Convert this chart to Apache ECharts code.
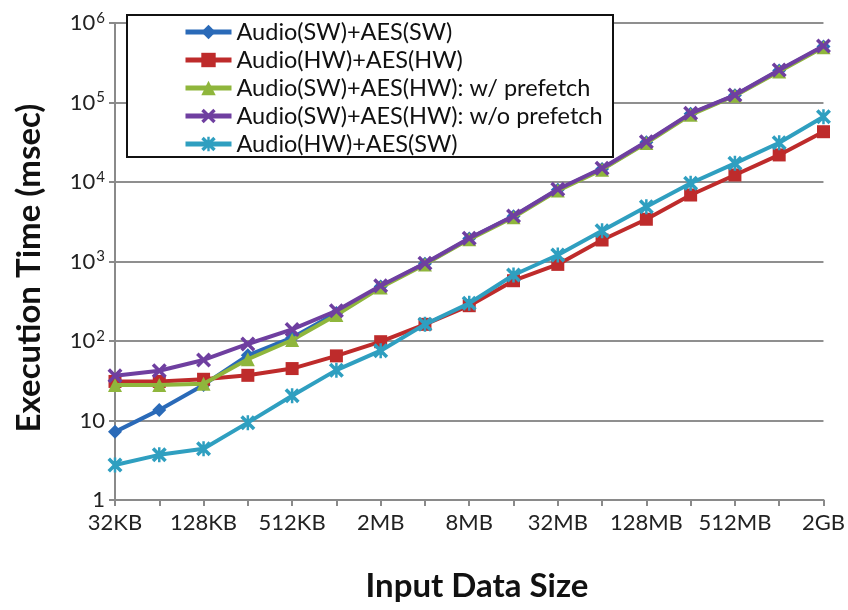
<!DOCTYPE html>
<html><head><meta charset="utf-8">
<script src="https://cdn.jsdelivr.net/npm/echarts@6/dist/echarts.min.js"></script>
<style>html,body{margin:0;padding:0;background:#fff}#c{width:848px;height:610px}</style>
</head><body><div id="c"></div>
<script>
var categories = ['32KB','64KB','128KB','256KB','512KB','1MB','2MB','4MB','8MB','16MB','32MB','64MB','128MB','256MB','512MB','1GB','2GB'];
var seriesNames = ['Audio(SW)+AES(SW)','Audio(HW)+AES(HW)','Audio(SW)+AES(HW): w/ prefetch','Audio(SW)+AES(HW): w/o prefetch','Audio(HW)+AES(SW)'];
var swSw = [7.2, 13.6, 28, 66, 110, 225, 485, 940, 1940, 3700, 8000, 14600, 31600, 72000, 123000, 252000, 505000];
var hwHw = [31, 31, 33, 37, 45, 65, 98, 162, 278, 573, 920, 1864, 3400, 6860, 12250, 21900, 42900];
var swHwPre = [28, 28, 29, 59, 103, 212, 470, 920, 1900, 3600, 7800, 14300, 31000, 70000, 122000, 245000, 495000];
var swHwNoPre = [36.6, 42.3, 57.7, 91.7, 140, 240, 496, 949, 1958, 3735, 8090, 14870, 32100, 73100, 124000, 256000, 514000];
var hwSw = [2.75, 3.7, 4.4, 9.4, 20.5, 43, 75.5, 162, 298, 676, 1207, 2440, 4890, 9630, 17180, 31200, 66300];

var colors = ['#2a6ab8', '#be2b2b', '#8fb63c', '#6f3fa0', '#2f9fc0'];
var xPath = 'path://M0,2 L2,0 L6,4 L10,0 L12,2 L8,6 L12,10 L10,12 L6,8 L2,12 L0,10 L4,6 Z';
var starPath = 'path://M0,2 L2,0 L6,4 L10,0 L12,2 L8,6 L12,10 L10,12 L6,8 L2,12 L0,10 L4,6 Z M5,0 L7,0 L7,12 L5,12 Z';
var symbols = ['diamond', 'rect', 'triangle', xPath, starPath];
var sizes = [14, 13, 14, 15, 15];
var datas = [swSw, hwHw, swHwPre, swHwNoPre, hwSw];
var FONT = 'Lato, "Open Sans", sans-serif';

var chart = echarts.init(document.getElementById('c'), null, {renderer: 'canvas'});
var series = datas.map(function (d, i) {
  return {
    name: seriesNames[i], type: 'line', data: d,
    symbol: symbols[i], symbolSize: sizes[i], showAllSymbol: true,
    lineStyle: {color: colors[i], width: 4},
    itemStyle: {color: colors[i], borderWidth: 0, opacity: 1},
    emphasis: {disabled: true}, animation: false, z: 2 + i * 0.01
  };
});

chart.setOption({
  animation: false,
  grid: {left: 115, right: 20, top: 23, bottom: 110, containLabel: false},
  xAxis: {
    type: 'category', data: categories, boundaryGap: false,
    axisLine: {lineStyle: {color: '#8a8a8a', width: 2}},
    axisTick: {show: true, interval: 0, length: 6, alignWithLabel: true, lineStyle: {color: '#8a8a8a', width: 2}},
    axisLabel: {interval: 1, color: '#222', fontFamily: FONT, fontSize: 22, margin: 12},
    splitLine: {show: false}
  },
  yAxis: {
    type: 'log', logBase: 10, min: 1, max: 1000000,
    axisLine: {show: true, lineStyle: {color: '#8a8a8a', width: 2}},
    axisTick: {show: true, length: 6, lineStyle: {color: '#8a8a8a', width: 2}},
    splitLine: {show: true, lineStyle: {color: '#8f8f8f', width: 2}},
    minorTick: {show: false},
    axisLabel: {
      color: '#222', fontFamily: FONT, fontSize: 22, margin: 10,
      formatter: function (v) {
        var e = Math.round(Math.log10(v));
        if (e === 0) return '1';
        if (e === 1) return '10';
        return '10{s|' + e + '}';
      },
      rich: {s: {fontSize: 15, fontFamily: FONT, color: '#222', verticalAlign: 'top', padding: [0, 0, 10, 1]}}
    }
  },
  legend: {
    orient: 'vertical', left: 183, top: 20, padding: 0, itemGap: 4,
    itemWidth: 46, itemHeight: 18, z: 20,
    data: seriesNames,
    lineStyle: {width: 5},
    textStyle: {color: '#111', fontFamily: FONT, fontSize: 23.5, lineHeight: 24},
    selectedMode: false
  },
  graphic: [
    {type: 'rect', z: 10, shape: {x: 127, y: 15, width: 486, height: 142},
     style: {fill: '#fff', stroke: '#111', lineWidth: 2}},
    {type: 'text', z: 10, x: 29, y: 268, rotation: Math.PI / 2,
     style: {text: 'Execution Time (msec)', font: 'bold 33px ' + FONT, fill: '#111', textAlign: 'center', textVerticalAlign: 'middle'}},
    {type: 'text', z: 10, x: 477, y: 586,
     style: {text: 'Input Data Size', font: 'bold 33px ' + FONT, fill: '#111', textAlign: 'center', textVerticalAlign: 'middle'}}
  ],
  series: series
});
</script></body></html>
